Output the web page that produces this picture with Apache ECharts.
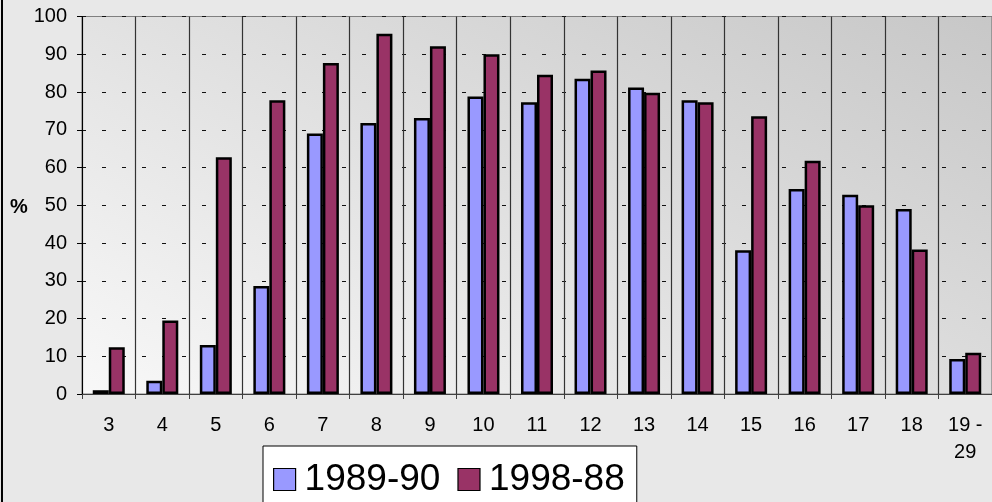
<!DOCTYPE html>
<html>
<head>
<meta charset="utf-8">
<script src="https://cdn.jsdelivr.net/npm/echarts@6/dist/echarts.min.js"></script>
<style>
html,body{margin:0;padding:0;background:#e8e8e8;}
#main{width:992px;height:502px;}
</style>
</head>
<body>
<div id="main"></div>
<script>
const categories = ['3','4','5','6','7','8','9','10','11','12','13','14','15','16','17','18','19 -\n29'];
const series1Name = '1989-90';
const series2Name = '1998-88';
const series1 = [1, 3.5, 13, 28.6, 69, 71.8, 73.1, 78.8, 77.3, 83.5, 81.2, 77.8, 38.1, 54.3, 52.8, 49, 9.3];
const series2 = [12.4, 19.5, 62.7, 77.8, 87.7, 95.4, 92.1, 90, 84.6, 85.7, 79.8, 77.3, 73.6, 61.8, 50, 38.3, 10.9];
const yTicks = [0,10,20,30,40,50,60,70,80,90,100];

const FONT = 'Liberation Sans, Arial, sans-serif';
const chart = echarts.init(document.getElementById('main'));
chart.setOption({
  animation: false,
  backgroundColor: '#e8e8e8',
  graphic: [
    {type:'rect', shape:{x:2, y:-20, width:1010, height:540, r:10}, style:{fill:'none', stroke:'#000', lineWidth:2}, z:-1},
    {type:'text', left:10, top:197, style:{text:'%', font:'bold 20px ' + FONT, fill:'#000'}}
  ],
  grid: {
    left: 82, top: 16.5, width: 911.5, height: 377.5,
    show: true, borderColor: '#808080', borderWidth: 1,
    backgroundColor: new echarts.graphic.LinearGradient(82, 394, 467, -347, [
      {offset:0, color:'#f8f8f8'}, {offset:1, color:'#c2c2c2'}
    ], true)
  },
  legend: {
    left: 263, top: 446,
    icon: 'rect',
    itemWidth: 22, itemHeight: 22, itemGap: 17,
    padding: [15, 12, 60, 10],
    backgroundColor: '#ffffff', borderColor: '#000', borderWidth: 1,
    itemStyle: {borderColor:'#000', borderWidth:1.2},
    textStyle: {fontSize: 37, fontFamily: FONT, color: '#000', padding:[0,0,0,4]},
    data: [series1Name, series2Name]
  },
  xAxis: {
    type: 'category', data: categories,
    axisLine: {show:true, lineStyle:{color:'#404040', width:1}},
    axisTick: {show:true, length:5, lineStyle:{color:'#404040'}},
    splitLine: {show:true, lineStyle:{color:'#333', width:1.2}},
    axisLabel: {fontSize:20, fontFamily:FONT, color:'#000', margin:18, lineHeight:27, interval:0}
  },
  yAxis: {
    type: 'value', min: 0, max: 100, interval: 10,
    axisLine: {show:true, lineStyle:{color:'#000', width:1}},
    axisTick: {show:true, length:5, lineStyle:{color:'#000'}},
    splitLine: {show:true, lineStyle:{color:'#111', width:1.2, type:[4,16]}},
    axisLabel: {fontSize:20, fontFamily:FONT, color:'#000', margin:15,
      formatter: v => yTicks.includes(v) ? String(v) : ''}
  },
  series: [
    {name: series1Name, type:'bar', data: series1, barWidth:16, barGap:'0%',
     itemStyle:{color:'#9999ff', borderColor:'#000', borderWidth:2.5}},
    {name: series2Name, type:'bar', data: series2, barWidth:16, barGap:'0%',
     itemStyle:{color:'#993366', borderColor:'#000', borderWidth:2.5}}
  ]
});
</script>
</body>
</html>
